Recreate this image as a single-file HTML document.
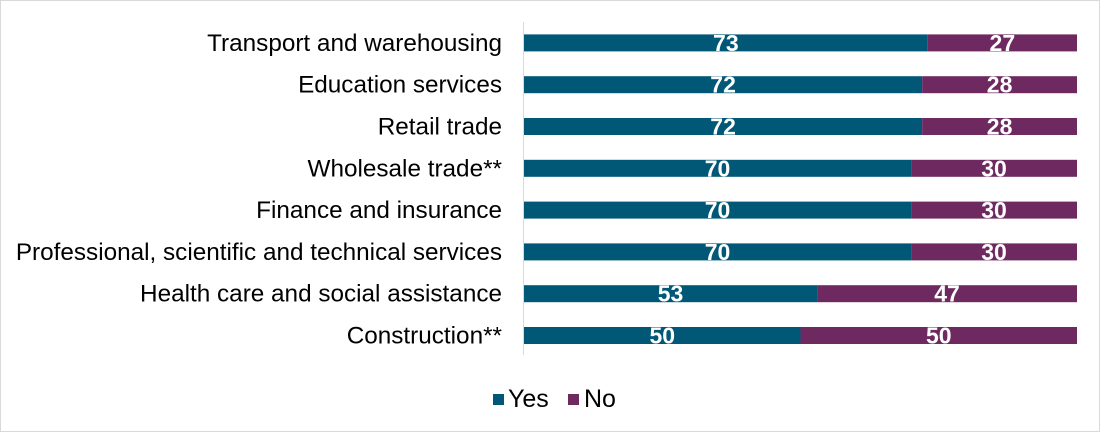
<!DOCTYPE html>
<html><head><meta charset="utf-8"><style>
html,body{margin:0;padding:0;background:#fff}
svg{display:block;font-family:"Liberation Sans",Arial,sans-serif}
</style></head><body>
<svg id="chart" width="1100" height="432" xmlns="http://www.w3.org/2000/svg">
<rect x="0.5" y="0.5" width="1099" height="431" fill="#fff" stroke="#d9d9d9"/>
<g id="plot"></g>
<line x1="523.5" y1="22" x2="523.5" y2="355" stroke="#d9d9d9" stroke-width="1"/>
<g>
<g>
<rect x="493" y="394" width="11" height="11" fill="#005876"/>
<text x="508" y="407" font-size="25" fill="#000">Yes</text></g>
<g>
<rect x="568" y="394" width="11" height="11" fill="#6e2a60"/>
<text x="584" y="407" font-size="25" fill="#000">No</text></g>
</g>
</svg>
<script>
const categories=["Transport and warehousing","Education services","Retail trade","Wholesale trade**","Finance and insurance","Professional, scientific and technical services","Health care and social assistance","Construction**"];
const yesValues=[73,72,72,70,70,70,53,50];
const noValues=[27,28,28,30,30,30,47,50];
const x0=524,x1=1077,plotTop=22,bandH=41.8,barH=17;
const xs=v=>x0+(x1-x0)*v/100;
const yc=i=>plotTop+bandH*(i+0.5);
const g=document.getElementById('plot');
const NS="http://www.w3.org/2000/svg";
function mk(t,a){const e=document.createElementNS(NS,t);for(const k in a)e.setAttribute(k,a[k]);return e;}
categories.forEach((c,i)=>{
  const y=yc(i);
  const lab=mk('text',{x:502,y:y+8,'text-anchor':'end','font-size':24.3,fill:'#000'});
  lab.textContent=c;
  
  
  g.appendChild(lab);
  const yv=yesValues[i],nv=noValues[i];
  const b1=mk('rect',{x:xs(0),y:y-barH/2,width:xs(yv)-xs(0),height:barH,fill:'#005876'});
  
  
  g.appendChild(b1);
  const b2=mk('rect',{x:xs(yv),y:y-barH/2,width:xs(yv+nv)-xs(yv),height:barH,fill:'#6e2a60'});
  
  
  g.appendChild(b2);
  const t1=mk('text',{x:(xs(0)+xs(yv))/2,y:y+8,'text-anchor':'middle','font-size':23,'font-weight':'bold',fill:'#fff'});
  t1.textContent=yv;
  
  
  g.appendChild(t1);
  const t2=mk('text',{x:(xs(yv)+xs(yv+nv))/2,y:y+8,'text-anchor':'middle','font-size':23,'font-weight':'bold',fill:'#fff'});
  t2.textContent=nv;
  
  
  g.appendChild(t2);
});
</script>
</body></html>
